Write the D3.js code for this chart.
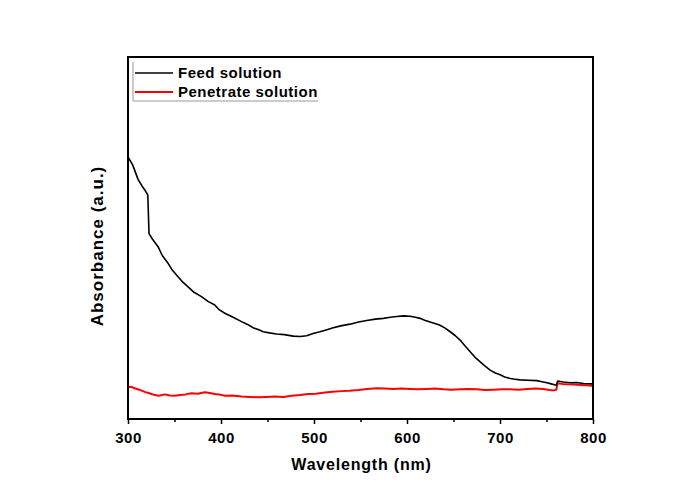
<!DOCTYPE html>
<html>
<head>
<meta charset="utf-8">
<script src="https://cdn.jsdelivr.net/npm/d3@7"></script>
<style>
  html, body { margin: 0; padding: 0; background: #fff; }
  svg { display: block; }
  text { font-family: "Liberation Sans", Arial, sans-serif; font-weight: bold; fill: #000; }
</style>
</head>
<body>
<script>
// UV-Vis spectra, wavelength (nm) vs absorbance (a.u.)
const feedWavelength = [300, 305, 310.8, 315.8, 319, 321.3, 322.6, 326, 332.3, 337, 343.1, 348, 353.8, 359, 364.6, 371, 379, 386, 393.3, 398, 404.1, 413, 422.1, 428, 434.6, 440, 445.4, 452, 459.8, 468, 477.7, 485, 492.1, 499, 506.4, 513, 520.7, 530, 538.7, 548, 556.7, 566, 574.6, 582, 589, 596, 603.3, 609, 614.1, 619, 624.8, 630, 635.6, 641, 646.4, 652, 657.1, 662, 667.9, 673, 678.7, 684, 689.4, 695, 700.2, 705, 711, 716, 721.7, 730, 739.7, 745, 750.5, 755, 759.4, 760.6, 762, 768, 775.6, 782, 790, 798.9, 800];
const feedAbs = [0.724, 0.702, 0.662, 0.641, 0.629, 0.619, 0.512, 0.498, 0.476, 0.451, 0.430, 0.410, 0.393, 0.378, 0.365, 0.350, 0.338, 0.325, 0.315, 0.302, 0.292, 0.281, 0.269, 0.262, 0.252, 0.247, 0.241, 0.238, 0.235, 0.233, 0.229, 0.228, 0.230, 0.236, 0.241, 0.246, 0.252, 0.258, 0.262, 0.268, 0.272, 0.276, 0.278, 0.281, 0.283, 0.285, 0.284, 0.281, 0.278, 0.273, 0.268, 0.264, 0.259, 0.251, 0.241, 0.230, 0.218, 0.203, 0.186, 0.171, 0.158, 0.146, 0.135, 0.127, 0.122, 0.116, 0.112, 0.110, 0.108, 0.107, 0.106, 0.103, 0.100, 0.097, 0.094, 0.093, 0.105, 0.102, 0.100, 0.101, 0.098, 0.097, 0.099];

const permWavelength = [300, 303, 307.2, 312, 318, 323, 328.7, 333, 339.5, 345, 350.3, 356, 362, 368.3, 375, 382.6, 388, 393.3, 398, 404.1, 412, 422.1, 431, 440, 449, 458, 467, 475.9, 485, 493.8, 502, 511.8, 520, 529.8, 538, 547.6, 557, 567.4, 576, 585.3, 594, 603.3, 612, 621.3, 630, 639.2, 648, 657.1, 666, 675.1, 684, 693, 702, 711, 720, 728.9, 738, 746.8, 753, 757.6, 760.5, 762, 767, 772, 779, 786.3, 792, 798.9, 800];
const permAbs = [0.088, 0.089, 0.085, 0.081, 0.075, 0.071, 0.066, 0.064, 0.068, 0.065, 0.064, 0.066, 0.068, 0.071, 0.070, 0.074, 0.072, 0.069, 0.068, 0.064, 0.065, 0.062, 0.061, 0.060, 0.061, 0.062, 0.061, 0.064, 0.066, 0.069, 0.070, 0.073, 0.075, 0.077, 0.078, 0.080, 0.083, 0.085, 0.084, 0.083, 0.084, 0.083, 0.082, 0.083, 0.084, 0.082, 0.081, 0.082, 0.083, 0.082, 0.080, 0.081, 0.082, 0.082, 0.081, 0.083, 0.084, 0.083, 0.080, 0.079, 0.081, 0.099, 0.097, 0.096, 0.095, 0.094, 0.093, 0.092, 0.093];

const xTicks = [300, 400, 500, 600, 700, 800];
const xMinorTicks = [350, 450, 550, 650, 750];
const seriesNames = ["Feed solution", "Penetrate solution"];
const seriesColors = ["#000000", "#ff0000"];

const W = 673, H = 497;
const m = { left: 128, right: 80, top: 57, bottom: 78 };

const svg = d3.select("body").append("svg").attr("width", W).attr("height", H);

const x = d3.scaleLinear().domain([300, 800]).range([m.left, W - m.right]);
const y = d3.scaleLinear().domain([0, 1]).range([H - m.bottom, m.top]);

const line = d3.line().x(d => x(d[0])).y(d => y(d[1]));

const series = [
  d3.zip(feedWavelength, feedAbs),
  d3.zip(permWavelength, permAbs)
];

// clip lines to the plotting frame
svg.append("clipPath").attr("id", "plotClip")
  .append("rect")
  .attr("x", m.left).attr("y", m.top)
  .attr("width", W - m.left - m.right).attr("height", H - m.top - m.bottom);

const plot = svg.append("g").attr("clip-path", "url(#plotClip)");
// red curve first so the black one sits above where they meet
[1, 0].forEach(i => {
  plot.append("path")
    .datum(series[i])
    .attr("fill", "none")
    .attr("stroke", seriesColors[i])
    .attr("stroke-width", i === 1 ? 2 : 1.6)
    .attr("stroke-linejoin", "round")
    .attr("d", line);
});

// bottom axis with major and minor ticks
const xAxis = d3.axisBottom(x).tickValues(xTicks).tickSize(5).tickPadding(4).tickFormat(d3.format("d"));
const gx = svg.append("g").attr("transform", `translate(0,${H - m.bottom})`).call(xAxis);
gx.select(".domain").remove();
gx.selectAll(".tick line").attr("stroke", "#000").attr("stroke-width", 1.5);
gx.selectAll(".tick text")
  .attr("font-size", 15)
  .attr("letter-spacing", 0.5)
  .attr("font-family", "Liberation Sans, Arial, sans-serif")
  .attr("font-weight", "bold").attr("fill", "#000")
  .attr("dy", "0.98em");

const gxm = svg.append("g").attr("transform", `translate(0,${H - m.bottom})`)
  .call(d3.axisBottom(x).tickValues(xMinorTicks).tickSize(3).tickFormat(""));
gxm.select(".domain").remove();
gxm.selectAll(".tick line").attr("stroke", "#000").attr("stroke-width", 1.5);

// frame
svg.append("rect")
  .attr("x", m.left).attr("y", m.top)
  .attr("width", W - m.left - m.right).attr("height", H - m.top - m.bottom)
  .attr("fill", "none").attr("stroke", "#000").attr("stroke-width", 2);

// axis titles
svg.append("text")
  .attr("x", (m.left + W - m.right) / 2 + 1).attr("y", 470)
  .attr("text-anchor", "middle").attr("font-size", 16).attr("letter-spacing", 0.8)
  .text("Wavelength (nm)");

svg.append("text")
  .attr("transform", `translate(103,246) rotate(-90)`)
  .attr("text-anchor", "middle").attr("font-size", 17).attr("letter-spacing", 1)
  .text("Absorbance (a.u.)");

// legend
const lg = svg.append("g");
lg.append("line").attr("x1", 133).attr("x2", 133).attr("y1", 62).attr("y2", 101)
  .attr("stroke", "#999").attr("stroke-width", 1);
lg.append("line").attr("x1", 133).attr("x2", 318).attr("y1", 101).attr("y2", 101)
  .attr("stroke", "#999").attr("stroke-width", 1);
seriesNames.forEach((name, i) => {
  const yy = 73 + i * 19;
  lg.append("line").attr("x1", 135).attr("x2", 173).attr("y1", yy).attr("y2", yy)
    .attr("stroke", seriesColors[i]).attr("stroke-width", i === 1 ? 2 : 1.6);
  lg.append("text").attr("x", 178).attr("y", yy + 5)
    .attr("font-size", 15).attr("letter-spacing", 0.5).text(name);
});
</script>
</body>
</html>
